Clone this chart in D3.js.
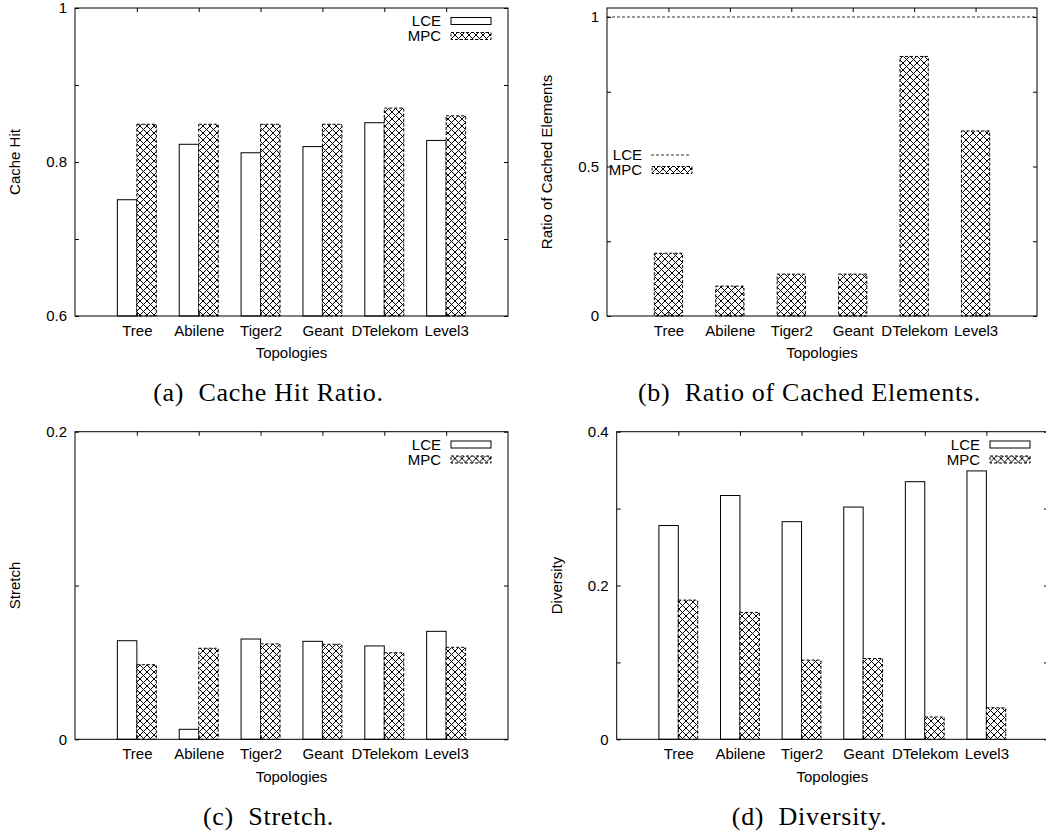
<!DOCTYPE html>
<html>
<head>
<meta charset="utf-8">
<script src="https://cdn.jsdelivr.net/npm/d3@7"></script>
<style>
  body { margin: 0; background: #fff; }
  svg { display: block; }
  .tick text { font-family: "Liberation Sans", Arial, sans-serif; font-size: 15px; fill: #000; }
  .lbl { font-family: "Liberation Sans", Arial, sans-serif; font-size: 15px; fill: #000; }
  .cap { font-family: "Liberation Serif", "Times New Roman", serif; font-size: 26px; fill: #000; white-space: pre; letter-spacing: 0.7px; }
</style>
</head>
<body>
<div id="draw"></div>
<script>
// topologies on the x axis
const topologies = ['Tree', 'Abilene', 'Tiger2', 'Geant', 'DTelekom', 'Level3'];

// (a) cache hit ratio
const hitLCE = [0.751, 0.823, 0.812, 0.820, 0.851, 0.828];
const hitMPC = [0.849, 0.849, 0.849, 0.849, 0.870, 0.860];
const hitTicks = [0.6, 0.7, 0.8, 0.9, 1];
const hitLabels = [0.6, 0.8, 1];

// (b) ratio of cached elements
const cachedLCE = [1, 1, 1, 1, 1, 1];
const cachedMPC = [0.21, 0.10, 0.14, 0.14, 0.868, 0.619];
const cachedTicks = [0, 0.25, 0.5, 0.75, 1];
const cachedLabels = [0, 0.5, 1];

// (c) stretch
const stretchLCE = [0.0641, 0.0065, 0.0652, 0.0637, 0.0607, 0.0702];
const stretchMPC = [0.0485, 0.0592, 0.0620, 0.0618, 0.0563, 0.0598];
const stretchTicks = [0, 0.1, 0.2];
const stretchLabels = [0, 0.2];

// (d) diversity
const diversityLCE = [0.278, 0.317, 0.283, 0.302, 0.335, 0.349];
const diversityMPC = [0.181, 0.165, 0.103, 0.105, 0.029, 0.041];
const diversityTicks = [0, 0.1, 0.2, 0.3, 0.4];
const diversityLabels = [0, 0.2, 0.4];

let svg = d3.select('#draw')
    .append('svg')
    .attr('width', 1046)
    .attr('height', 836);

let pat = svg.append('defs').append('pattern')
    .attr('id', 'xhatch')
    .attr('patternUnits', 'userSpaceOnUse')
    .attr('width', 7)
    .attr('height', 7);
pat.append('rect').attr('width', 7).attr('height', 7).attr('fill', '#fff');
pat.append('path')
    .attr('d', 'M0,0L7,7M7,0L0,7')
    .attr('stroke', '#000')
    .attr('stroke-width', 1);

function panel(cfg) {
    let x = d3.scaleLinear().domain([-1, 6]).range([cfg.left, cfg.right]);
    let y = d3.scaleLinear().domain(cfg.yDomain).range([cfg.bottom, cfg.top]);
    let g = svg.append('g');
    let fmt = d => cfg.labels.includes(d) ? String(d) : '';

    // bars
    let bw = cfg.lceLine ? 0.46 : 0.315;
    if (!cfg.lceLine) {
        g.selectAll('rect.lce').data(cfg.lce).enter().append('rect')
            .attr('class', 'lce')
            .attr('x', (d, i) => x(i - bw))
            .attr('y', d => y(d))
            .attr('width', x(bw) - x(0))
            .attr('height', d => y(cfg.yDomain[0]) - y(d))
            .attr('fill', '#fff')
            .attr('stroke', '#000')
            .attr('stroke-width', 1);
    }
    g.selectAll('rect.mpc').data(cfg.mpc).enter().append('rect')
        .attr('class', 'mpc')
        .attr('x', (d, i) => cfg.lceLine ? x(i - bw / 2) : x(i))
        .attr('y', d => y(d))
        .attr('width', x(bw) - x(0))
        .attr('height', d => y(cfg.yDomain[0]) - y(d))
        .attr('fill', 'url(#xhatch)')
        .attr('stroke', '#000')
        .attr('stroke-width', 1)
        .attr('stroke-dasharray', '3,2');

    if (cfg.lceLine) {
        g.append('path')
            .attr('d', d3.line().x((d, i) => i === 0 ? cfg.left : cfg.right).y(d => y(d))([cfg.lce[0], cfg.lce[cfg.lce.length - 1]]))
            .attr('stroke', '#000')
            .attr('stroke-width', 0.8)
            .attr('stroke-dasharray', '3,2')
            .attr('fill', 'none');
    }

    // axes
    g.append('g').attr('transform', 'translate(' + cfg.left + ',0)')
        .call(d3.axisLeft(y).tickValues(cfg.ticks).tickFormat(fmt).tickSize(-4).tickPadding(8));
    g.append('g').attr('transform', 'translate(' + cfg.right + ',0)')
        .call(d3.axisRight(y).tickValues(cfg.ticks).tickFormat('').tickSize(-4));
    g.append('g').attr('transform', 'translate(0,' + cfg.bottom + ')')
        .call(d3.axisBottom(x).tickValues(d3.range(topologies.length)).tickFormat(i => topologies[i]).tickSize(-4).tickPadding(9.5));
    g.append('g').attr('transform', 'translate(0,' + cfg.top + ')')
        .call(d3.axisTop(x).tickValues(d3.range(topologies.length)).tickFormat('').tickSize(-4));
    g.selectAll('.domain').remove();
    g.selectAll('.tick line').attr('stroke', '#000');

    g.append('rect')
        .attr('x', cfg.left).attr('y', cfg.top)
        .attr('width', cfg.right - cfg.left).attr('height', cfg.bottom - cfg.top)
        .attr('fill', 'none').attr('stroke', '#000').attr('stroke-width', 1);

    // axis titles
    g.append('text').attr('class', 'lbl')
        .attr('transform', 'translate(' + (cfg.left - 60) + ',' + (cfg.top + cfg.bottom) / 2 + ') rotate(-90)')
        .attr('text-anchor', 'middle').attr('dy', '0.35em')
        .text(cfg.ylabel);
    g.append('text').attr('class', 'lbl')
        .attr('x', (cfg.left + cfg.right) / 2).attr('y', cfg.bottom + 37)
        .attr('text-anchor', 'middle').attr('dy', '0.35em')
        .text('Topologies');

    // legend
    let lg = g.append('g').attr('transform', 'translate(' + cfg.legX + ',' + cfg.legY + ')');
    ['LCE', 'MPC'].forEach((name, k) => {
        lg.append('text').attr('class', 'lbl')
            .attr('x', 0).attr('y', k * 15).attr('dy', '0.35em')
            .attr('text-anchor', 'end').text(name);
        if (name === 'LCE' && cfg.lceLine) {
            lg.append('line').attr('x1', 9).attr('x2', 49).attr('y1', 0).attr('y2', 0)
                .attr('stroke', '#000').attr('stroke-width', 0.8).attr('stroke-dasharray', '3,2');
        } else {
            lg.append('rect').attr('x', 10).attr('y', k * 15 - 3.5).attr('width', 40).attr('height', 7)
                .attr('fill', name === 'LCE' ? '#fff' : 'url(#xhatch)')
                .attr('stroke', '#000').attr('stroke-width', 1)
                .attr('stroke-dasharray', name === 'LCE' ? null : '3,2');
        }
    });

    // caption
    svg.append('text').attr('class', 'cap')
        .attr('x', cfg.capX).attr('y', cfg.capY)
        .attr('text-anchor', 'middle')
        .text(cfg.caption);
}

panel({ left: 75, right: 508, top: 8, bottom: 316, yDomain: [0.6, 1], ticks: hitTicks, labels: hitLabels,
    lce: hitLCE, mpc: hitMPC, ylabel: 'Cache Hit', legX: 441, legY: 21,
    caption: '(a)  Cache Hit Ratio.', capX: 268.5, capY: 401 });
panel({ left: 607, right: 1037, top: 8, bottom: 316, yDomain: [0, 1.03], ticks: cachedTicks, labels: cachedLabels,
    lce: cachedLCE, mpc: cachedMPC, lceLine: true, ylabel: 'Ratio of Cached Elements', legX: 642, legY: 155,
    caption: '(b)  Ratio of Cached Elements.', capX: 809.5, capY: 401 });
panel({ left: 75, right: 508, top: 431.7, bottom: 739.3, yDomain: [0, 0.2], ticks: stretchTicks, labels: stretchLabels,
    lce: stretchLCE, mpc: stretchMPC, ylabel: 'Stretch', legX: 441, legY: 444.5,
    caption: '(c)  Stretch.', capX: 268.5, capY: 825 });
panel({ left: 616.7, right: 1048, top: 431.7, bottom: 739.3, yDomain: [0, 0.4], ticks: diversityTicks, labels: diversityLabels,
    lce: diversityLCE, mpc: diversityMPC, ylabel: 'Diversity', legX: 980, legY: 444.5,
    caption: '(d)  Diversity.', capX: 809.5, capY: 825 });
</script>
</body>
</html>
